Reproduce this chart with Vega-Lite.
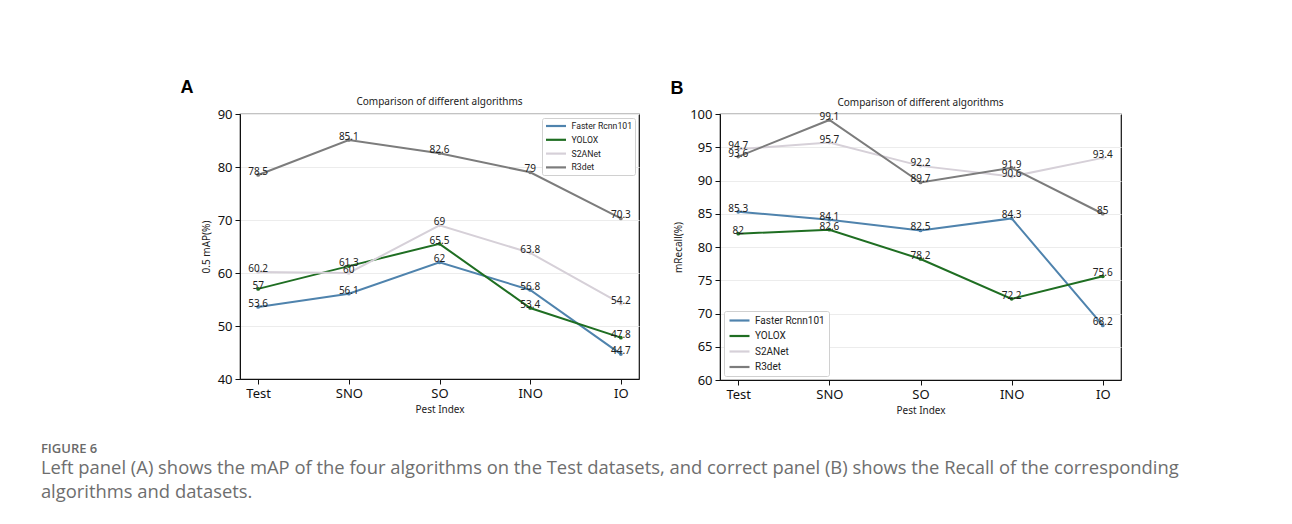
{
  "$schema": "https://vega.github.io/schema/vega-lite/v6.json",
  "background": "white",
  "autosize": {"type": "pad"},
  "padding": {"left": 40, "top": 78, "right": 0, "bottom": 10},
  "datasets": {
    "a": [
      {"index": "Test", "algorithm": "Faster Rcnn101", "value": 53.6},
      {"index": "SNO", "algorithm": "Faster Rcnn101", "value": 56.1},
      {"index": "SO", "algorithm": "Faster Rcnn101", "value": 62},
      {"index": "INO", "algorithm": "Faster Rcnn101", "value": 56.8},
      {"index": "IO", "algorithm": "Faster Rcnn101", "value": 44.7},
      {"index": "Test", "algorithm": "YOLOX", "value": 57},
      {"index": "SNO", "algorithm": "YOLOX", "value": 61.3},
      {"index": "SO", "algorithm": "YOLOX", "value": 65.5},
      {"index": "INO", "algorithm": "YOLOX", "value": 53.4},
      {"index": "IO", "algorithm": "YOLOX", "value": 47.8},
      {"index": "Test", "algorithm": "S2ANet", "value": 60.2},
      {"index": "SNO", "algorithm": "S2ANet", "value": 60},
      {"index": "SO", "algorithm": "S2ANet", "value": 69},
      {"index": "INO", "algorithm": "S2ANet", "value": 63.8},
      {"index": "IO", "algorithm": "S2ANet", "value": 54.2},
      {"index": "Test", "algorithm": "R3det", "value": 78.5},
      {"index": "SNO", "algorithm": "R3det", "value": 85.1},
      {"index": "SO", "algorithm": "R3det", "value": 82.6},
      {"index": "INO", "algorithm": "R3det", "value": 79},
      {"index": "IO", "algorithm": "R3det", "value": 70.3}
    ],
    "b": [
      {"index": "Test", "algorithm": "Faster Rcnn101", "value": 85.3},
      {"index": "SNO", "algorithm": "Faster Rcnn101", "value": 84.1},
      {"index": "SO", "algorithm": "Faster Rcnn101", "value": 82.5},
      {"index": "INO", "algorithm": "Faster Rcnn101", "value": 84.3},
      {"index": "IO", "algorithm": "Faster Rcnn101", "value": 68.2},
      {"index": "Test", "algorithm": "YOLOX", "value": 82},
      {"index": "SNO", "algorithm": "YOLOX", "value": 82.6},
      {"index": "SO", "algorithm": "YOLOX", "value": 78.2},
      {"index": "INO", "algorithm": "YOLOX", "value": 72.2},
      {"index": "IO", "algorithm": "YOLOX", "value": 75.6},
      {"index": "Test", "algorithm": "S2ANet", "value": 94.7},
      {"index": "SNO", "algorithm": "S2ANet", "value": 95.7},
      {"index": "SO", "algorithm": "S2ANet", "value": 92.2},
      {"index": "INO", "algorithm": "S2ANet", "value": 90.6},
      {"index": "IO", "algorithm": "S2ANet", "value": 93.4},
      {"index": "Test", "algorithm": "R3det", "value": 93.6},
      {"index": "SNO", "algorithm": "R3det", "value": 99.1},
      {"index": "SO", "algorithm": "R3det", "value": 89.7},
      {"index": "INO", "algorithm": "R3det", "value": 91.9},
      {"index": "IO", "algorithm": "R3det", "value": 85}
    ]
  },
  "title": {
    "text": "FIGURE 6",
    "subtitle": ["Left panel (A) shows the mAP of the four algorithms on the Test datasets, and correct panel (B) shows the Recall of the corresponding", "algorithms and datasets."],
    "orient": "bottom",
    "anchor": "start",
    "frame": "bounds",
    "offset": 27,
    "dx": -139,
    "font": "Open Sans",
    "fontSize": 13,
    "fontWeight": 600,
    "color": "#6a6a6a",
    "subtitleFont": "Open Sans",
    "subtitleFontSize": 18.4,
    "subtitleColor": "#6e6e6e",
    "subtitleLineHeight": 24,
    "subtitlePadding": 3
  },
  "spacing": 29,
  "hconcat": [
    {
      "width": 399,
      "height": 265,
      "title": {"text": "Comparison of different algorithms", "fontSize": 10, "fontWeight": "normal", "font": "Noto Sans", "color": "#222", "offset": -28},
      "data": {"name": "a"},
      "encoding": {
        "x": {"field": "index", "type": "ordinal", "sort": ["Test", "SNO", "SO", "INO", "IO"], "scale": {"type": "point", "padding": 0.2}, "axis": {"title": "Pest Index", "labelAngle": 0}},
        "y": {"field": "value", "type": "quantitative", "scale": {"domain": [40, 90], "nice": false, "zero": false}, "axis": {"values": [40, 50, 60, 70, 80, 90], "title": "0.5 mAP(%)"}},
        "color": {
          "field": "algorithm", "type": "nominal",
          "sort": ["Faster Rcnn101", "YOLOX", "S2ANet", "R3det"],
          "scale": {"domain": ["Faster Rcnn101", "YOLOX", "S2ANet", "R3det"], "range": ["#4f83ad", "#1f6e22", "#d6d0d8", "#7c7c7c"]},
          "legend": {"orient": "top-right", "offset": 4, "title": null, "symbolType": "M-1,0H4", "symbolStrokeWidth": 2.2, "symbolSize": 64, "labelFontSize": 8.7, "labelFont": "Roboto", "labelColor": "#222", "strokeColor": "#d0d0d0", "fillColor": "white", "padding": 2.5, "rowPadding": 2.8, "labelOffset": 16, "cornerRadius": 2}
        }
      },
      "layer": [
        {"mark": {"type": "line", "strokeWidth": 2, "point": {"filled": true, "size": 14}}},
        {"mark": {"type": "text", "dy": -3, "fontSize": 10, "font": "Noto Sans"}, "encoding": {"text": {"field": "value", "type": "nominal"}, "color": {"value": "#222"}}},
        {"data": {"values": [{"label": "A"}]}, "mark": {"type": "text", "fontSize": 18, "fontWeight": "bold", "font": "Liberation Sans", "align": "center", "baseline": "middle"}, "encoding": {"text": {"field": "label"}, "x": {"value": -53}, "y": {"value": -26}, "color": {"value": "black"}}}
      ]
    },
    {
      "width": 401,
      "height": 266,
      "title": {"text": "Comparison of different algorithms", "fontSize": 10, "fontWeight": "normal", "font": "Noto Sans", "color": "#222", "offset": -28},
      "data": {"name": "b"},
      "encoding": {
        "x": {"field": "index", "type": "ordinal", "sort": ["Test", "SNO", "SO", "INO", "IO"], "scale": {"type": "point", "padding": 0.2}, "axis": {"title": "Pest Index", "labelAngle": 0}},
        "y": {"field": "value", "type": "quantitative", "scale": {"domain": [60, 100], "nice": false, "zero": false}, "axis": {"values": [60, 65, 70, 75, 80, 85, 90, 95, 100], "title": "mRecall(%)"}},
        "color": {
          "field": "algorithm", "type": "nominal",
          "sort": ["Faster Rcnn101", "YOLOX", "S2ANet", "R3det"],
          "scale": {"domain": ["Faster Rcnn101", "YOLOX", "S2ANet", "R3det"], "range": ["#4f83ad", "#1f6e22", "#d6d0d8", "#7c7c7c"]},
          "legend": {"orient": "bottom-left", "offset": 4, "title": null, "symbolType": "M-1,0H4", "symbolStrokeWidth": 2.2, "symbolSize": 64, "labelFontSize": 10, "labelFont": "Roboto", "labelColor": "#222", "strokeColor": "#d0d0d0", "fillColor": "white", "padding": 4, "rowPadding": 4.5, "labelOffset": 16, "cornerRadius": 2}
        }
      },
      "layer": [
        {"mark": {"type": "line", "strokeWidth": 2, "point": {"filled": true, "size": 14}}},
        {"mark": {"type": "text", "dy": -3, "fontSize": 10, "font": "Noto Sans"}, "encoding": {"text": {"field": "value", "type": "nominal"}, "color": {"value": "#222"}}},
        {"data": {"values": [{"label": "B"}]}, "mark": {"type": "text", "fontSize": 18, "fontWeight": "bold", "font": "Liberation Sans", "align": "center", "baseline": "middle"}, "encoding": {"text": {"field": "label"}, "x": {"value": -43}, "y": {"value": -25}, "color": {"value": "black"}}}
      ]
    }
  ],
  "resolve": {"scale": {"color": "independent", "y": "independent", "x": "independent"}},
  "config": {
    "view": {"stroke": "#111", "strokeWidth": 1.2},
    "axis": {
      "labelFont": "Noto Sans", "labelFontSize": 13, "labelColor": "#111",
      "titleFont": "Noto Sans", "titleFontSize": 10, "titleFontWeight": "normal", "titleColor": "#222",
      "domainColor": "#111", "tickColor": "#111", "tickSize": 5, "labelPadding": 3,
      "gridColor": "#ececec", "gridWidth": 1
    },
    "axisX": {"titlePadding": 4},
    "axisY": {"titlePadding": 6}
  }
}
